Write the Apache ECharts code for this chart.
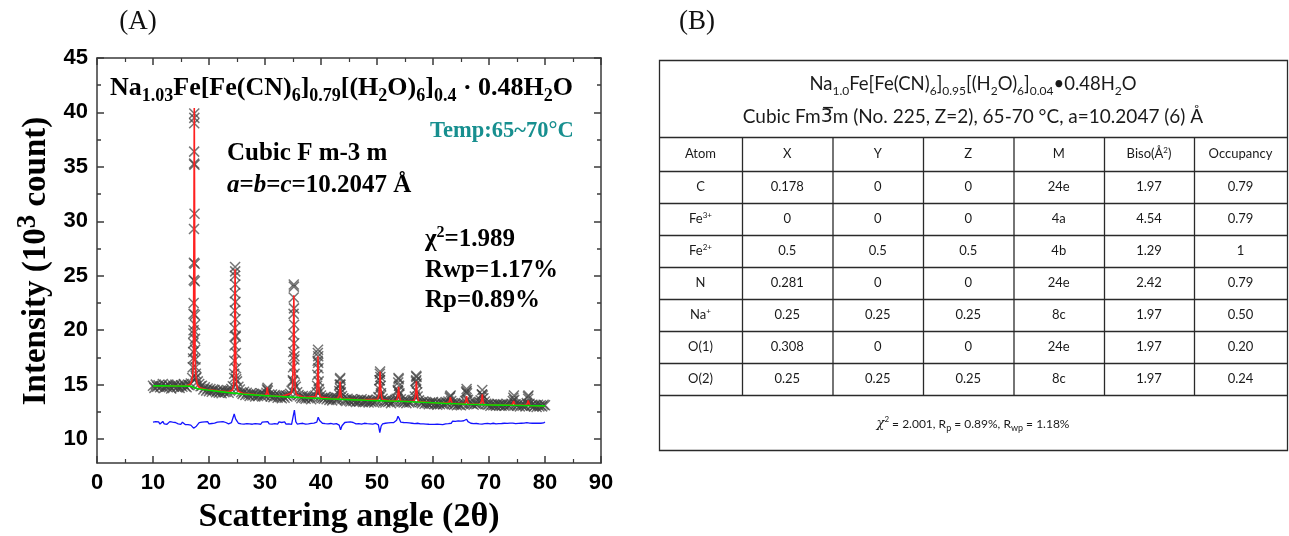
<!DOCTYPE html>
<html><head><meta charset="utf-8">
<script src="https://cdn.jsdelivr.net/npm/echarts@6/dist/echarts.min.js"></script>
<style>html,body{margin:0;padding:0;background:#fff}#c{width:1289px;height:536px}</style>
</head><body><div id="c"></div>
<script>
// ---------- DATA ----------
// observed pattern, coarse sampling of the background band
const observed = [
[10,14.9],[10.25,14.7],[10.5,15.0],[10.75,14.8],
[11,14.95],[11.25,14.75],[11.5,14.85],[11.75,15.05],
[12,14.7],[12.25,14.9],[12.5,14.8],[12.75,15.0],
[13,14.85],[13.25,14.65],[13.5,14.95],[13.75,14.8],
[14,15.0],[14.25,14.75],[14.5,14.9],[14.75,14.7],
[15,14.95],[15.25,14.8],[15.5,15.05],[15.75,14.85],
[16,14.75],[16.25,15.0],[16.5,14.95],[16.75,15.1],
[17,15.6],[17.25,20.0],[17.5,19.2],[17.75,15.7],
[18,15.3],[18.25,15.05],[18.5,14.85],[18.75,14.9],
[19,14.55],[19.25,14.75],[19.5,14.45],[19.75,14.65],
[20,14.4],[20.25,14.6],[20.5,14.35],[20.75,14.55],
[21,14.5],[21.25,14.3],[21.5,14.45],[21.75,14.25],
[22,14.4],[22.25,14.2],[22.5,14.45],[22.75,14.3],
[23,14.35],[23.25,14.5],[23.5,14.25],[23.75,14.45],
[24,14.6],[24.25,14.85],[24.5,15.6],[24.75,19.5],
[25,15.3],[25.25,14.8],[25.5,14.55],[25.75,14.3],
[26,14.15],[26.25,14.35],[26.5,14.05],[26.75,14.25],
[27,14.1],[27.25,13.95],[27.5,14.2],[27.75,14.0],
[28,14.15],[28.25,13.9],[28.5,14.1],[28.75,13.95],
[29,14.05],[29.25,14.2],[29.5,13.9],[29.75,14.1],
[30,14.0],[30.25,14.25],[30.5,14.45],[30.75,14.1],
[31,13.9],[31.25,14.1],[31.5,13.85],[31.75,14.05],
[32,13.95],[32.25,13.8],[32.5,14.0],[32.75,13.85],
[33,13.75],[33.25,13.95],[33.5,13.8],[33.75,14.0],
[34,13.9],[34.25,14.05],[34.5,14.15],[34.75,14.45],
[35,15.3],[35.25,17.6],[35.5,14.8],[35.75,14.3],
[36,14.05],[36.25,13.9],[36.5,13.75],[36.75,13.95],
[37,13.8],[37.25,13.7],[37.5,13.9],[37.75,13.75],
[38,13.85],[38.25,13.65],[38.5,13.8],[38.75,13.9],
[39,14.0],[39.25,14.3],[39.5,17.0],[39.75,14.3],
[40,14.0],[40.25,13.8],[40.5,13.7],[40.75,13.85],
[41,13.65],[41.25,13.8],[41.5,13.6],[41.75,13.75],
[42,13.55],[42.25,13.7],[42.5,13.85],[42.75,13.6],
[43,13.75],[43.25,14.1],[43.5,14.6],[43.75,13.95],
[44,13.75],[44.25,13.6],[44.5,13.5],[44.75,13.7],
[45,13.55],[45.25,13.45],[45.5,13.65],[45.75,13.5],
[46,13.6],[46.25,13.4],[46.5,13.55],[46.75,13.45],
[47,13.5],[47.25,13.65],[47.5,13.4],[47.75,13.55],
[48,13.45],[48.25,13.6],[48.5,13.35],[48.75,13.5],
[49,13.4],[49.25,13.55],[49.5,13.35],[49.75,13.5],
[50,13.6],[50.25,13.85],[50.5,15.4],[50.75,14.0],
[51,13.7],[51.25,13.5],[51.5,13.35],[51.75,13.55],
[52,13.4],[52.25,13.5],[52.5,13.3],[52.75,13.45],
[53,13.5],[53.25,13.6],[53.5,13.7],[53.75,14.4],
[54,14.1],[54.25,13.65],[54.5,13.45],[54.75,13.35],
[55,13.45],[55.25,13.3],[55.5,13.5],[55.75,13.35],
[56,13.4],[56.25,13.55],[56.5,13.6],[56.75,13.9],
[57,15.4],[57.25,13.9],[57.5,13.55],[57.75,13.4],
[58,13.3],[58.25,13.45],[58.5,13.25],[58.75,13.4],
[59,13.3],[59.25,13.2],[59.5,13.35],[59.75,13.25],
[60,13.4],[60.25,13.2],[60.5,13.3],[60.75,13.15],
[61,13.3],[61.25,13.2],[61.5,13.35],[61.75,13.2],
[62,13.25],[62.25,13.4],[62.5,13.3],[62.75,13.45],
[63,13.8],[63.25,13.5],[63.5,13.3],[63.75,13.15],
[64,13.25],[64.25,13.1],[64.5,13.2],[64.75,13.15],
[65,13.1],[65.25,13.25],[65.5,13.3],[65.75,13.5],
[66,14.4],[66.25,13.6],[66.5,13.35],[66.75,13.3],
[67,13.25],[67.25,13.15],[67.5,13.3],[67.75,13.2],
[68,13.25],[68.25,13.4],[68.5,13.55],[68.75,14.1],
[69,13.75],[69.25,13.45],[69.5,13.25],[69.75,13.15],
[70,13.2],[70.25,13.05],[70.5,13.2],[70.75,13.1],
[71,13.15],[71.25,13.05],[71.5,13.25],[71.75,13.1],
[72,13.15],[72.25,13.05],[72.5,13.2],[72.75,13.05],
[73,13.1],[73.25,13.2],[73.5,13.05],[73.75,13.15],
[74,13.25],[74.25,13.5],[74.5,13.6],[74.75,13.2],
[75,13.05],[75.25,13.2],[75.5,13.0],[75.75,13.15],
[76,13.05],[76.25,13.15],[76.5,13.0],[76.75,13.3],
[77,13.7],[77.25,13.25],[77.5,13.05],[77.75,13.15],
[78,13.0],[78.25,13.1],[78.5,12.95],[78.75,13.15],
[79,13.0],[79.25,13.1],[79.5,13.0],[79.75,13.15],
[80,13.1]
];
// observed points on the Bragg peak flanks
const observedPeaks = [
[17.1,16.6],[17.15,17.4],[17.18,18.0],[17.2,18.8],[17.22,19.7],[17.24,21.5],[17.26,22.5],[17.28,24.6],[17.3,26.2],[17.32,29.3],[17.34,35.3],[17.35,36.4],[17.36,39.0],[17.37,39.9],[17.38,39.5],[17.4,35.2],[17.42,30.7],[17.44,26.1],[17.46,24.5],[17.48,21.4],[17.5,20.5],[17.53,18.2],[17.56,17.3],[17.6,16.6],[17.65,16.0],[17.7,15.6],
[24.5,16.0],[24.53,17.2],[24.56,18.6],[24.58,20.2],[24.6,21.8],[24.62,23.4],[24.64,25.0],[24.66,25.8],[24.68,25.4],[24.7,24.2],[24.72,22.6],[24.74,21.0],[24.76,19.4],[24.79,17.9],[24.82,16.5],[24.86,15.5],
[34.98,15.4],[35.02,16.6],[35.05,18.0],[35.08,19.6],[35.1,21.5],[35.12,23.0],[35.14,24.2],[35.16,24.0],[35.18,22.0],[35.2,20.5],[35.22,18.8],[35.25,17.3],[35.28,16.0],[35.32,15.0],
[39.3,14.9],[39.35,15.9],[39.4,17.2],[39.44,17.9],[39.47,18.2],[39.5,17.6],[39.54,16.5],[39.58,15.3],[39.63,14.6],
[43.28,14.4],[43.34,15.0],[43.39,15.5],[43.43,15.6],[43.48,15.0],[43.54,14.3],
[50.4,14.6],[50.46,15.4],[50.51,16.0],[50.55,16.2],[50.6,15.7],[50.66,14.9],[50.72,14.2],
[53.72,14.5],[53.79,15.2],[53.84,15.6],[53.88,15.5],[53.94,14.9],[54.0,14.2],
[56.88,14.5],[56.95,15.3],[57.0,15.8],[57.05,15.7],[57.1,15.1],[57.18,14.3],
[30.35,14.55],[30.45,14.7],[63.05,13.9],[63.15,14.0],[65.92,14.3],[66.0,14.6],[66.08,14.2],
[68.72,14.1],[68.8,14.5],[68.88,14.0],[74.35,13.8],[74.45,14.0],[76.95,13.9],[77.05,14.0]
];
// calculated (Rietveld fit)
const calculated = [
[10,14.9],[16.0,14.9],[16.6,15.0],[16.9,15.3],[17.1,15.9],[17.22,17.5],[17.3,28.0],[17.37,40.4],[17.44,28.0],[17.52,17.5],[17.65,15.8],[17.9,15.0],[18.4,14.7],[19.5,14.55],[22,14.4],[23.5,14.35],
[24.2,14.5],[24.4,15.0],[24.54,17.5],[24.66,25.6],[24.78,17.5],[24.92,15.0],[25.2,14.4],[26,14.2],[29,14.05],
[30.1,14.0],[30.3,14.3],[30.4,14.75],[30.5,14.3],[30.7,13.98],[33,13.92],
[34.7,14.2],[34.9,14.7],[35.03,17.0],[35.15,23.2],[35.27,17.0],[35.4,14.6],[35.6,14.1],[37,13.82],
[39.0,13.9],[39.25,14.3],[39.38,15.6],[39.46,17.6],[39.54,15.6],[39.7,14.2],[39.9,13.85],[42,13.7],
[43.0,13.75],[43.25,14.0],[43.35,14.6],[43.41,15.3],[43.47,14.6],[43.6,13.9],[43.8,13.7],[47,13.6],
[50.1,13.65],[50.35,14.0],[50.47,15.0],[50.55,16.2],[50.63,15.0],[50.8,13.9],[51.0,13.6],[52.5,13.52],
[53.5,13.55],[53.7,13.9],[53.8,14.4],[53.86,14.8],[53.92,14.4],[54.05,13.8],[54.25,13.5],[55.5,13.45],
[56.6,13.5],[56.85,13.9],[56.96,14.7],[57.03,15.3],[57.1,14.7],[57.25,13.8],[57.45,13.45],[60,13.34],
[62.8,13.3],[63.0,13.6],[63.1,13.85],[63.2,13.6],[63.4,13.28],
[65.7,13.25],[65.9,13.6],[66.0,13.95],[66.1,13.6],[66.3,13.22],
[68.5,13.2],[68.7,13.6],[68.8,14.1],[68.9,13.6],[69.1,13.18],[72,13.13],
[74.1,13.12],[74.3,13.3],[74.4,13.5],[74.5,13.3],[74.7,13.1],
[76.7,13.1],[76.9,13.35],[77.0,13.55],[77.1,13.35],[77.3,13.08],[80,13.06]
];
// background
const background = [
[10,14.88],[12,14.88],[14,14.87],[16,14.86],[16.8,14.85],[17.4,14.72],[18,14.62],[19,14.55],[20,14.48],[22,14.36],[24,14.24],[26,14.14],[28,14.06],[30,13.99],[32,13.93],[34,13.87],[36,13.82],[38,13.77],[40,13.72],[42,13.68],[44,13.64],[46,13.6],[48,13.56],[50,13.53],[52,13.5],[54,13.47],[56,13.43],[58,13.38],[60,13.33],[62,13.28],[64,13.24],[66,13.2],[68,13.17],[70,13.14],[72,13.12],[74,13.1],[76,13.08],[78,13.06],[80,13.05]
];
// difference curve (obs - calc, shifted)
const difference = [
[10,11.55],[10.25,11.4],[10.5,11.6],[10.75,11.45],[11,11.58],[11.25,11.38],[11.5,11.52],[11.75,11.62],
[12,11.4],[12.25,11.56],[12.5,11.36],[12.75,11.5],[13,11.6],[13.25,11.42],[13.5,11.55],[13.75,11.37],
[14,11.52],[14.25,11.62],[14.5,11.4],[14.75,11.5],[15,11.36],[15.25,11.55],[15.5,11.42],[15.75,11.33],
[16,11.5],[16.25,11.32],[16.5,11.45],[16.75,11.28],[17,11.25],[17.25,11.0],[17.5,10.88],[17.75,11.18],
[18,11.35],[18.25,11.5],[18.5,11.38],[18.75,11.55],[19,11.42],[19.25,11.58],[19.5,11.45],[19.75,11.6],
[20,11.4],[20.25,11.57],[20.5,11.43],[20.75,11.58],[21,11.46],[21.25,11.38],[21.5,11.55],[21.75,11.4],
[22,11.58],[22.25,11.42],[22.5,11.6],[22.75,11.45],[23,11.52],[23.25,11.62],[23.5,11.4],[23.75,11.57],
[24,11.5],[24.25,11.68],[24.5,12.3],[24.75,11.85],[25,11.65],[25.25,11.45],[25.5,11.55],[25.75,11.4],
[26,11.52],[26.25,11.38],[26.5,11.55],[26.75,11.42],[27,11.58],[27.25,11.4],[27.5,11.53],[27.75,11.36],
[28,11.5],[28.25,11.42],[28.5,11.57],[28.75,11.4],[29,11.52],[29.25,11.36],[29.5,11.55],[29.75,11.42],
[30,11.58],[30.25,11.46],[30.5,11.6],[30.75,11.4],[31,11.5],[31.25,11.38],[31.5,11.56],[31.75,11.42],
[32,11.55],[32.25,11.38],[32.5,11.57],[32.75,11.4],[33,11.52],[33.25,11.4],[33.5,11.58],[33.75,11.37],
[34,11.53],[34.25,11.4],[34.5,11.55],[34.75,11.35],[35,11.5],[35.25,12.65],[35.5,11.6],[35.75,11.38],
[36,11.52],[36.25,11.42],[36.5,11.56],[36.75,11.45],[37,11.55],[37.25,11.38],[37.5,11.52],[37.75,11.4],
[38,11.58],[38.25,11.44],[38.5,11.6],[38.75,11.47],[39,11.62],[39.25,11.55],[39.5,12.0],[39.75,11.7],
[40,11.62],[40.25,11.45],[40.5,11.6],[40.75,11.42],[41,11.55],[41.25,11.4],[41.5,11.58],[41.75,11.43],
[42,11.52],[42.25,11.38],[42.5,11.55],[42.75,11.42],[43,11.5],[43.25,11.28],[43.5,10.85],[43.75,11.22],
[44,11.38],[44.25,11.52],[44.5,11.4],[44.75,11.56],[45,11.42],[45.25,11.57],[45.5,11.43],[45.75,11.52],
[46,11.58],[46.25,11.4],[46.5,11.55],[46.75,11.42],[47,11.5],[47.25,11.38],[47.5,11.56],[47.75,11.45],
[48,11.55],[48.25,11.42],[48.5,11.58],[48.75,11.4],[49,11.52],[49.25,11.38],[49.5,11.55],[49.75,11.45],
[50,11.5],[50.25,11.3],[50.5,10.6],[50.75,11.2],[51,11.4],[51.25,11.58],[51.5,11.45],[51.75,11.6],
[52,11.48],[52.25,11.64],[52.5,11.5],[52.75,11.66],[53,11.52],[53.25,11.68],[53.5,11.72],[53.75,12.1],
[54,11.85],[54.25,11.55],[54.5,11.65],[54.75,11.52],[55,11.64],[55.25,11.5],[55.5,11.65],[55.75,11.48],
[56,11.58],[56.25,11.45],[56.5,11.56],[56.75,11.42],[57,11.6],[57.25,11.45],[57.5,11.55],[57.75,11.4],
[58,11.52],[58.25,11.4],[58.5,11.54],[58.75,11.38],[59,11.5],[59.25,11.36],[59.5,11.48],[59.75,11.35],
[60,11.5],[60.25,11.34],[60.5,11.5],[60.75,11.36],[61,11.52],[61.25,11.35],[61.5,11.5],[61.75,11.33],
[62,11.48],[62.25,11.4],[62.5,11.56],[62.75,11.42],[63,11.6],[63.25,11.45],[63.5,11.64],[63.75,11.48],
[64,11.62],[64.25,11.5],[64.5,11.66],[64.75,11.52],[65,11.64],[65.25,11.55],[65.5,11.68],[65.75,11.6],
[66,11.82],[66.25,11.6],[66.5,11.65],[66.75,11.45],[67,11.55],[67.25,11.42],[67.5,11.56],[67.75,11.43],
[68,11.52],[68.25,11.4],[68.5,11.55],[68.75,11.38],[69,11.56],[69.25,11.42],[69.5,11.58],[69.75,11.44],
[70,11.52],[70.25,11.4],[70.5,11.56],[70.75,11.45],[71,11.56],[71.25,11.4],[71.5,11.57],[71.75,11.42],
[72,11.58],[72.25,11.43],[72.5,11.6],[72.75,11.45],[73,11.54],[73.25,11.44],[73.5,11.6],[73.75,11.47],
[74,11.58],[74.25,11.46],[74.5,11.6],[74.75,11.42],[75,11.6],[75.25,11.44],[75.5,11.6],[75.75,11.45],
[76,11.55],[76.25,11.46],[76.5,11.6],[76.75,11.5],[77,11.62],[77.25,11.46],[77.5,11.6],[77.75,11.45],
[78,11.6],[78.25,11.45],[78.5,11.62],[78.75,11.46],[79,11.6],[79.25,11.45],[79.5,11.6],[79.75,11.48],
[80,11.56]
];
// axis ticks
const yMajorTicks = [10,15,20,25,30,35,40,45];
const yMinorTicks = [12.5,17.5,22.5,27.5,32.5,37.5,42.5];

// table (B)
const tableTitle1 = 'Na{s|1.0}Fe[Fe(CN){s|6}]{s|0.95}[(H{s|2}O){s|6}]{s|0.04}•0.48H{s|2}O';
const tableTitle2 = 'Cubic Fm{ob|3\u0305}m (No. 225, Z=2), 65-70 °C, a=10.2047 (6) Å';
const tableHeader = ['Atom','X','Y','Z','M','Biso(Å{p|2})','Occupancy'];
const atomNames = ['C','Fe{p|3+}','Fe{p|2+}','N','Na{p|+}','O(1)','O(2)'];
const coordX = ['0.178','0','0.5','0.281','0.25','0.308','0.25'];
const coordY = ['0','0','0.5','0','0.25','0','0.25'];
const coordZ = ['0','0','0.5','0','0.25','0','0.25'];
const wyckoff = ['24e','4a','4b','24e','8c','24e','8c'];
const bIso = ['1.97','4.54','1.29','2.42','1.97','1.97','1.97'];
const occupancy = ['0.79','0.79','1','0.79','0.50','0.20','0.24'];
const tableFooter = '{i|χ}{p|2} = 2.001, R{b|p} = 0.89%, R{b|wp} = 1.18%';

// ---------- LAYOUT ----------
const SERIF = "'Liberation Serif','Times New Roman',serif";
const SANS = "'Liberation Sans',Arial,sans-serif";
const TFONT = "Lato,'Noto Sans',sans-serif";
const AX = '#3a3a3a';
const T = {left:659, top:60, width:628, titleH:77, headerH:34, rowH:32, footerH:55,
           cols:[83,90.5,90.5,90.5,90.5,90,93]};

const obsAll = observed.concat(observedPeaks).sort((a,b)=>a[0]-b[0]);

function richSerif(size, subSize, lh){
  return {
    s:{fontSize:subSize, lineHeight:subSize, verticalAlign:'bottom', fontFamily:SERIF, fontWeight:'bold'},
    p:{fontSize:subSize, lineHeight:subSize, verticalAlign:'top', fontFamily:SERIF, fontWeight:'bold'},
    i:{fontSize:size, lineHeight:lh, fontStyle:'italic', fontFamily:SERIF, fontWeight:'bold'}
  };
}
function txt(x, y, text, o){
  return {type:'text', x:x, y:y, rotation:o.rotation||0, z:100, silent:true,
    style:Object.assign({text:text, align:o.align||'left', verticalAlign:'middle'}, o.style)};
}

const graphics = [];
// panel labels
graphics.push(txt(138, 22, '(A)', {align:'center', style:{fontFamily:SERIF, fontSize:27, fill:'#111'}}));
graphics.push(txt(697, 22, '(B)', {align:'center', style:{fontFamily:SERIF, fontSize:27, fill:'#111'}}));
// axis names
graphics.push(txt(36, 261, 'Intensity (10{p|3} count)', {align:'center', rotation:Math.PI/2,
  style:{align:'center', fontFamily:SERIF, fontWeight:'bold', fontSize:33, lineHeight:42, fill:'#000',
    rich:{p:{fontFamily:SERIF, fontWeight:'bold', fontSize:27, lineHeight:27, verticalAlign:'top'}}}}));
graphics.push(txt(349, 517, 'Scattering angle (2θ)', {align:'center',
  style:{align:'center', fontFamily:SERIF, fontWeight:'bold', fontSize:34, fill:'#000'}}));
// in-plot annotations
graphics.push(txt(110, 88, 'Na{s|1.03}Fe[Fe(CN){s|6}]{s|0.79}[(H{s|2}O){s|6}]{s|0.4} · 0.48H{s|2}O',
  {style:{fontFamily:SERIF, fontWeight:'bold', fontSize:26, lineHeight:35, fill:'#000', rich:richSerif(26,18,35)}}));
graphics.push(txt(430, 131, 'Temp:65~70°C', {style:{fontFamily:SERIF, fontWeight:'bold', fontSize:22.5, fill:'#178f8f'}}));
graphics.push(txt(227, 154, 'Cubic F m-3 m', {style:{fontFamily:SERIF, fontWeight:'bold', fontSize:25, fill:'#000'}}));
graphics.push(txt(227, 186, '{i|a}={i|b}={i|c}=10.2047 Å', {style:{fontFamily:SERIF, fontWeight:'bold', fontSize:25, lineHeight:30, fill:'#000', rich:richSerif(25,16,30)}}));
graphics.push(txt(425, 240, 'χ{p|2}=1.989', {style:{fontFamily:SERIF, fontWeight:'bold', fontSize:25, lineHeight:30, fill:'#000', rich:richSerif(25,16,30)}}));
graphics.push(txt(425, 271, 'Rwp=1.17%', {style:{fontFamily:SERIF, fontWeight:'bold', fontSize:25, fill:'#000'}}));
graphics.push(txt(425, 301, 'Rp=0.89%', {style:{fontFamily:SERIF, fontWeight:'bold', fontSize:25, fill:'#000'}}));

// ---- table (B) ----
const lineStyle = {stroke:'#2a2a2a', lineWidth:1.3};
const tRight = T.left + T.width;
const headerTop = T.top + T.titleH;
const bodyTop = headerTop + T.headerH;
const nRows = atomNames.length;
const footerTop = bodyTop + nRows*T.rowH;
const tBottom = footerTop + T.footerH;
graphics.push({type:'rect', z:50, silent:true, shape:{x:T.left+0.5, y:T.top+0.5, width:T.width, height:tBottom-T.top},
  style:{fill:'transparent', stroke:'#2a2a2a', lineWidth:1.3}});
const hLines = [headerTop, bodyTop];
for (let r=1; r<=nRows; r++) hLines.push(bodyTop + r*T.rowH);
hLines.forEach(y=>graphics.push({type:'line', z:50, silent:true, shape:{x1:T.left, y1:y+0.5, x2:tRight, y2:y+0.5}, style:lineStyle}));
const colEdges = [T.left];
T.cols.forEach(w=>colEdges.push(colEdges[colEdges.length-1]+w));
for (let c=1; c<T.cols.length; c++) {
  graphics.push({type:'line', z:50, silent:true, shape:{x1:colEdges[c]+0.5, y1:headerTop, x2:colEdges[c]+0.5, y2:footerTop}, style:lineStyle});
}
const cellRich = {p:{fontSize:8, lineHeight:8, verticalAlign:'top', fontFamily:TFONT},
                  b:{fontSize:9, lineHeight:9, verticalAlign:'bottom', fontFamily:TFONT},
                  s:{fontSize:12, lineHeight:12, verticalAlign:'bottom', fontFamily:TFONT},
                  i:{fontSize:13, lineHeight:18, fontStyle:'italic', fontFamily:"'DejaVu Serif',serif"},
                  ob:{fontSize:19, lineHeight:26, fontFamily:"'DejaVu Sans',sans-serif"}};
const cx = T.left + T.width/2;
graphics.push(txt(cx, T.top+24, tableTitle1, {align:'center', style:{align:'center', fontFamily:TFONT, fontSize:18.5, lineHeight:26, fill:'#1a1a1a', rich:cellRich}}));
graphics.push(txt(cx, T.top+57, tableTitle2, {align:'center', style:{align:'center', fontFamily:TFONT, fontSize:19, lineHeight:26, fill:'#1a1a1a', rich:cellRich}}));
const columnsData = [atomNames, coordX, coordY, coordZ, wyckoff, bIso, occupancy];
tableHeader.forEach((h,c)=>{
  const x = (colEdges[c]+colEdges[c+1])/2;
  graphics.push(txt(x, headerTop+T.headerH/2, h, {align:'center', style:{align:'center', fontFamily:TFONT, fontSize:13, lineHeight:16, fill:'#1a1a1a', rich:cellRich}}));
  columnsData[c].forEach((v,r)=>{
    graphics.push(txt(x, bodyTop + r*T.rowH + T.rowH/2, v, {align:'center', style:{align:'center', fontFamily:TFONT, fontSize:13, lineHeight:16, fill:'#1a1a1a', rich:cellRich}}));
  });
});
graphics.push(txt(cx, footerTop + 29, tableFooter, {align:'center', style:{align:'center', fontFamily:TFONT, fontSize:12, lineHeight:18, fill:'#1a1a1a', rich:cellRich}}));

// ---------- CHART ----------
const tickLine = {color:AX, width:1.5};
function xAx(pos, labels){
  return {type:'value', min:0, max:90, interval:10, position:pos, gridIndex:0,
    axisLine:{show:true, onZero:false, lineStyle:{color:AX, width:1.5}},
    axisTick:{show:true, inside:true, length:7, lineStyle:tickLine},
    minorTick:{show:true, splitNumber:2, length:4, lineStyle:{color:AX, width:1.2}},
    splitLine:{show:false}, minorSplitLine:{show:false},
    axisLabel:{show:labels, color:'#000', fontSize:22, fontWeight:'bold', fontFamily:SANS, margin:9}};
}
function yAx(pos, ticks, len, labels, line){
  return {type:'value', min:7.8, max:45, position:pos, gridIndex:0,
    axisLine:{show:line, onZero:false, lineStyle:{color:AX, width:1.5}},
    axisTick:{show:true, inside:true, length:len, customValues:ticks, lineStyle:tickLine},
    splitLine:{show:false},
    axisLabel:{show:labels, customValues:ticks, color:'#000', fontSize:22, fontWeight:'bold', fontFamily:SANS, margin:9}};
}

const option = {
  animation:false,
  backgroundColor:'#fff',
  grid:{left:97, right:688, top:58, bottom:73, containLabel:false},
  xAxis:[xAx('bottom', true), xAx('top', false)],
  yAxis:[yAx('left', yMajorTicks, 7, true, true), yAx('left', yMinorTicks, 4, false, false),
         yAx('right', yMajorTicks, 7, false, true), yAx('right', yMinorTicks, 4, false, false)],
  series:[
    {type:'scatter', name:'observed', data:obsAll, xAxisIndex:0, yAxisIndex:0, z:2, silent:true,
      symbol:'path://M0,0L10,10M10,0L0,10', symbolSize:10,
      itemStyle:{color:'rgba(0,0,0,0)', borderColor:'rgba(64,64,64,0.9)', borderWidth:1.5}},
    {type:'line', name:'calculated', data:calculated, xAxisIndex:0, yAxisIndex:0, z:3, silent:true,
      showSymbol:false, lineStyle:{color:'#ff2020', width:1.6}},
    {type:'line', name:'background', data:background, xAxisIndex:0, yAxisIndex:0, z:4, silent:true,
      showSymbol:false, lineStyle:{color:'#00dd00', width:1.6}},
    {type:'line', name:'difference', data:difference, xAxisIndex:0, yAxisIndex:0, z:3, silent:true,
      showSymbol:false, lineStyle:{color:'#1414ff', width:1.3}}
  ],
  graphic:graphics
};
const chart = echarts.init(document.getElementById('c'));
chart.setOption(option);
</script></body></html>
